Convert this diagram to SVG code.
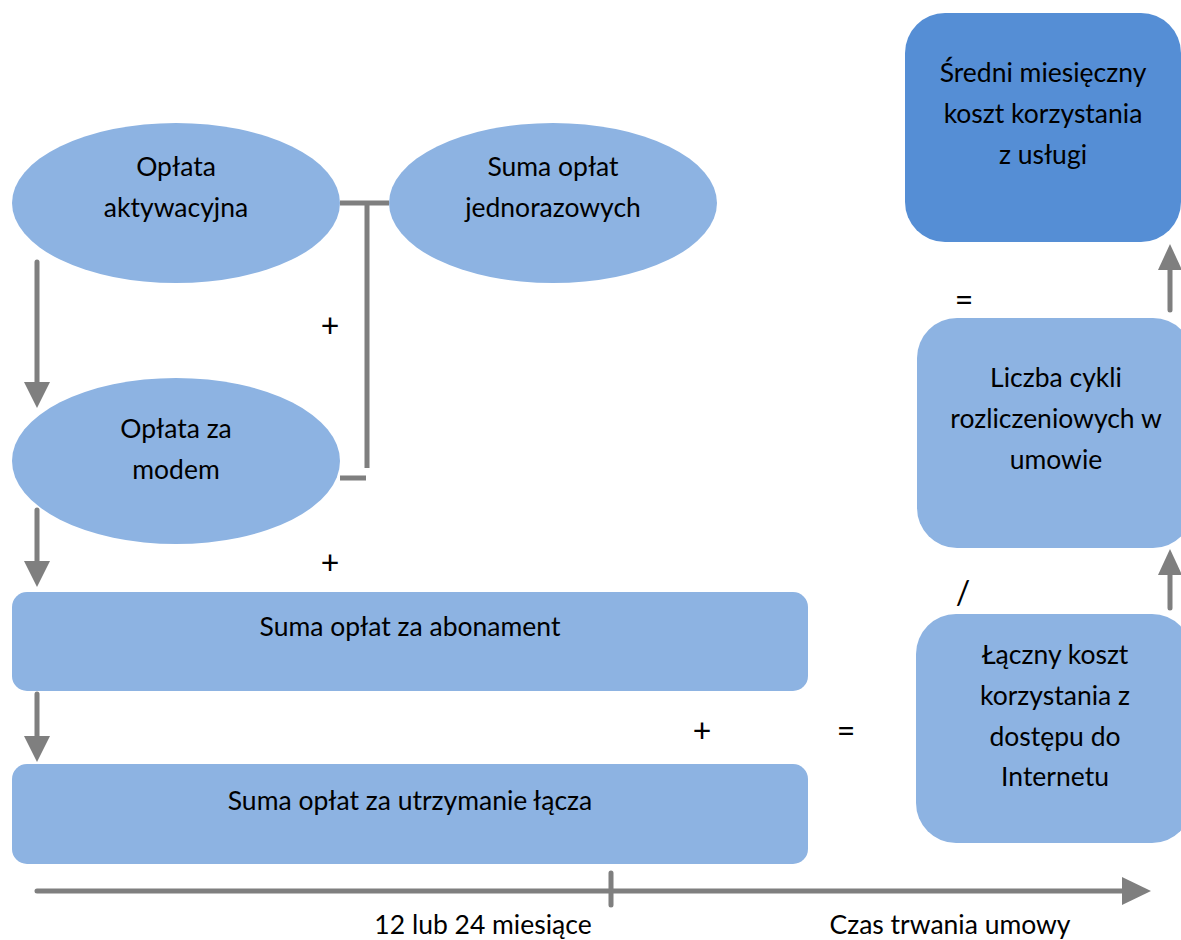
<svg xmlns="http://www.w3.org/2000/svg" width="1181" height="940" viewBox="0 0 1181 940">
<style>
.n{fill:#8DB3E2}
.d{fill:#558ED5}
.t{font-family:Lato,"Liberation Sans",sans-serif;font-size:26.5px;fill:#000;text-anchor:middle}
.o{font-family:Lato,"Liberation Sans",sans-serif;font-size:32px;fill:#000;text-anchor:middle}
.c{stroke:#7F7F7F;stroke-width:5;fill:none}
.h{fill:#7F7F7F}
</style>
<rect width="1181" height="940" fill="#fff"/>
<g id="connectors">
<path class="c" d="M340,203 H389 M367,203 V468 M340,478 H366"/>
<path class="c" d="M37,262 V384" stroke-linecap="round"/>
<polygon class="h" points="24,382 50,382 37,408"/>
<path class="c" d="M37,510 V562" stroke-linecap="round"/>
<polygon class="h" points="24,561 50,561 37,587"/>
<path class="c" d="M37,694 V738" stroke-linecap="round"/>
<polygon class="h" points="24,736 50,736 37,762"/>
<path class="c" d="M1170,310 V268" stroke-linecap="round"/>
<polygon class="h" points="1158,270 1182,270 1170,244"/>
<path class="c" d="M1170,608 V574" stroke-linecap="round"/>
<polygon class="h" points="1158,575 1182,575 1170,549"/>
<path class="c" d="M37,891 H1125 M611,873 V905" stroke-linecap="round"/>
<polygon class="h" points="1122,877 1151,891 1122,905"/>
</g>
<g id="n-aktywacyjna"><ellipse class="n" cx="176" cy="203" rx="164" ry="80"/>
<text class="t" x="176" y="176">Opłata</text><text class="t" x="176" y="217">aktywacyjna</text></g>
<g id="n-jednorazowych"><ellipse class="n" cx="553" cy="203" rx="164" ry="80"/>
<text class="t" x="553" y="176">Suma opłat</text><text class="t" x="553" y="217">jednorazowych</text></g>
<g id="n-modem"><ellipse class="n" cx="176" cy="461" rx="164" ry="83"/>
<text class="t" x="176" y="438">Opłata za</text><text class="t" x="176" y="479">modem</text></g>
<g id="n-abonament"><rect class="n" x="12" y="592" width="796" height="99" rx="15"/>
<text class="t" x="410" y="636">Suma opłat za abonament</text></g>
<g id="n-utrzymanie"><rect class="n" x="12" y="764" width="796" height="100" rx="15"/>
<text class="t" x="410" y="810">Suma opłat za utrzymanie łącza</text></g>
<g id="n-sredni"><rect class="d" x="905" y="13" width="276" height="229" rx="40"/>
<text class="t" x="1043" y="82">Średni miesięczny</text><text class="t" x="1043" y="123">koszt korzystania</text><text class="t" x="1043" y="164">z usługi</text></g>
<g id="n-liczba"><rect class="n" x="917" y="318" width="276" height="230" rx="40"/>
<text class="t" x="1056" y="387">Liczba cykli</text><text class="t" x="1056" y="428">rozliczeniowych w</text><text class="t" x="1056" y="469">umowie</text></g>
<g id="n-laczny"><rect class="n" x="916" y="614" width="276" height="229" rx="40"/>
<text class="t" x="1055" y="664">Łączny koszt</text><text class="t" x="1055" y="705">korzystania z</text><text class="t" x="1055" y="746">dostępu do</text><text class="t" x="1055" y="786">Internetu</text></g>
<g id="labels">
<text class="o" x="330" y="337">+</text>
<text class="o" x="330" y="574">+</text>
<text class="o" x="702" y="742">+</text>
<text class="o" x="846" y="742">=</text>
<text class="o" x="964" y="311">=</text>
<text class="o" x="963" y="604">/</text>
<text class="t" x="483" y="934">12 lub 24 miesiące</text>
<text class="t" x="950" y="934">Czas trwania umowy</text>
</g>
</svg>
